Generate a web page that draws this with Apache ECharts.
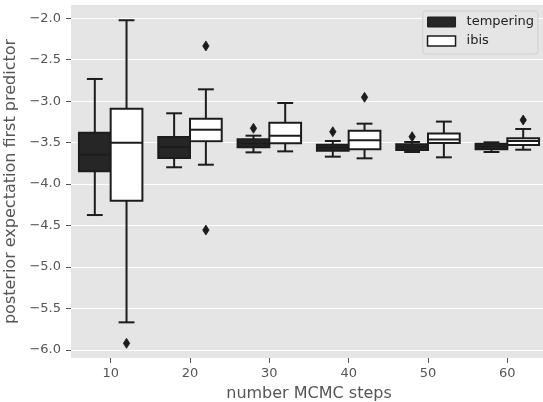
<!DOCTYPE html>
<html>
<head>
<meta charset="utf-8">
<script src="https://cdn.jsdelivr.net/npm/echarts@6/dist/echarts.min.js"></script>
<style>
  html, body { margin: 0; padding: 0; background: #ffffff; }
  #chart { width: 543px; height: 402px; }
</style>
</head>
<body>
<div id="chart"></div>
<script>
// Number of MCMC steps (x categories)
const steps = ['10', '20', '30', '40', '50', '60'];

// Box summaries per step: [lower whisker, Q1, median, Q3, upper whisker]
const temperingBoxes = [
  [-4.373, -3.846, -3.645, -3.380, -2.732],
  [-3.797, -3.685, -3.552, -3.432, -3.146],
  [-3.617, -3.556, -3.510, -3.460, -3.416],
  [-3.669, -3.597, -3.560, -3.525, -3.480],
  [-3.613, -3.589, -3.555, -3.520, -3.492],
  [-3.613, -3.580, -3.545, -3.513, -3.496]
];
const ibisBoxes = [
  [-5.667, -4.200, -3.500, -3.090, -2.024],
  [-3.766, -3.484, -3.344, -3.211, -2.857],
  [-3.605, -3.508, -3.416, -3.259, -3.022],
  [-3.689, -3.580, -3.472, -3.356, -3.271],
  [-3.677, -3.504, -3.462, -3.390, -3.246],
  [-3.585, -3.528, -3.480, -3.448, -3.335]
];

// Outliers: [step index, value]
const temperingOutliers = [[2, -3.327], [3, -3.368], [4, -3.428]];
const ibisOutliers = [[0, -5.920], [1, -2.334], [1, -4.554], [3, -2.953], [5, -3.227]];

// Y tick positions / labels
const yTicks = [-6.0, -5.5, -5.0, -4.5, -4.0, -3.5, -3.0, -2.5, -2.0];

const EDGE = '#1c1c1c';
const DARK_FILL = '#262626';
const LIGHT_FILL = '#ffffff';
const FONT = 'DejaVu Sans';

function boxRenderer(shift, fill) {
  return function (params, api) {
    const idx = api.value(0);
    const band = api.size([1, 0])[0];
    const cx = api.coord([idx, 0])[0] + shift * band;
    const half = band * 0.2;
    const cap = band * 0.1;
    const py = (i) => api.coord([idx, api.value(i)])[1];
    const lo = py(1), q1 = py(2), med = py(3), q3 = py(4), hi = py(5);
    const ls = { stroke: EDGE, lineWidth: 2 };
    return {
      type: 'group',
      children: [
        { type: 'line', shape: { x1: cx, y1: q3, x2: cx, y2: hi }, style: ls },
        { type: 'line', shape: { x1: cx, y1: q1, x2: cx, y2: lo }, style: ls },
        { type: 'line', shape: { x1: cx - cap, y1: hi, x2: cx + cap, y2: hi }, style: ls },
        { type: 'line', shape: { x1: cx - cap, y1: lo, x2: cx + cap, y2: lo }, style: ls },
        { type: 'rect', shape: { x: cx - half, y: q3, width: 2 * half, height: q1 - q3 },
          style: { fill: fill, stroke: EDGE, lineWidth: 2 } },
        { type: 'line', shape: { x1: cx - half, y1: med, x2: cx + half, y2: med }, style: ls }
      ]
    };
  };
}

function outlierRenderer(shift) {
  return function (params, api) {
    const idx = api.value(0);
    const band = api.size([1, 0])[0];
    const p = api.coord([idx, api.value(1)]);
    const cx = p[0] + shift * band;
    const cy = p[1];
    return {
      type: 'polygon',
      shape: { points: [[cx, cy - 5], [cx + 3.2, cy], [cx, cy + 5], [cx - 3.2, cy]] },
      style: { fill: EDGE, stroke: EDGE, lineWidth: 0.8 }
    };
  };
}

const chart = echarts.init(document.getElementById('chart'), null, { renderer: 'canvas' });

chart.setOption({
  animation: false,
  backgroundColor: '#ffffff',
  textStyle: { fontFamily: FONT },
  grid: {
    left: 71, top: 5, width: 476, height: 353,
    outerBoundsMode: 'none',
    containLabel: false,
    show: true, backgroundColor: '#e5e5e5', borderWidth: 0
  },
  legend: {
    orient: 'vertical',
    right: 5, top: 11,
    padding: [4, 4, 6, 4],
    itemGap: 5,
    itemWidth: 28, itemHeight: 10,
    backgroundColor: 'rgba(229,229,229,0.8)',
    borderColor: '#d0d0d0', borderWidth: 1, borderRadius: 3,
    textStyle: { color: '#222222', fontSize: 13, fontFamily: FONT, lineHeight: 14, padding: [0, 0, 0, 6] },
    data: [
      { name: 'tempering', icon: 'rect', itemStyle: { color: DARK_FILL, borderColor: EDGE, borderWidth: 1 } },
      { name: 'ibis', icon: 'rect', itemStyle: { color: LIGHT_FILL, borderColor: EDGE, borderWidth: 1.5 } }
    ]
  },
  xAxis: {
    type: 'category',
    data: steps,
    boundaryGap: true,
    name: 'number MCMC steps',
    nameLocation: 'middle',
    nameGap: 28,
    nameTextStyle: { color: '#555555', fontSize: 16, fontFamily: FONT },
    axisLine: { show: false },
    axisTick: { show: true, alignWithLabel: true, length: 5, lineStyle: { color: '#555555', width: 1 } },
    axisLabel: { color: '#555555', fontSize: 13, fontFamily: FONT, margin: 9 },
    splitLine: { show: false }
  },
  yAxis: {
    type: 'value',
    min: -6.097,
    max: -1.840,
    name: 'posterior expectation first predictor',
    nameLocation: 'middle',
    nameGap: 46,
    nameTextStyle: { color: '#555555', fontSize: 16, fontFamily: FONT },
    axisLine: { show: false },
    axisTick: { show: true, length: 5, customValues: yTicks, lineStyle: { color: '#555555', width: 1 } },
    axisLabel: {
      color: '#555555', fontSize: 13, fontFamily: FONT, margin: 10,
      customValues: yTicks,
      formatter: (v) => (v < 0 ? '\u2212' : '') + Math.abs(v).toFixed(1)
    },
    splitLine: { show: true, customValues: yTicks, lineStyle: { color: '#ffffff', width: 1.2 } }
  },
  series: [
    {
      name: 'tempering',
      type: 'custom',
      itemStyle: { color: DARK_FILL, borderColor: EDGE },
      renderItem: boxRenderer(-0.2, DARK_FILL),
      encode: { x: 0, y: [1, 2, 3, 4, 5] },
      data: temperingBoxes.map((b, i) => [i].concat(b)),
      z: 3
    },
    {
      name: 'ibis',
      type: 'custom',
      itemStyle: { color: LIGHT_FILL, borderColor: EDGE },
      renderItem: boxRenderer(0.2, LIGHT_FILL),
      encode: { x: 0, y: [1, 2, 3, 4, 5] },
      data: ibisBoxes.map((b, i) => [i].concat(b)),
      z: 3
    },
    {
      name: 'tempering outliers',
      type: 'custom',
      renderItem: outlierRenderer(-0.2),
      encode: { x: 0, y: 1 },
      data: temperingOutliers,
      z: 4
    },
    {
      name: 'ibis outliers',
      type: 'custom',
      renderItem: outlierRenderer(0.2),
      encode: { x: 0, y: 1 },
      data: ibisOutliers,
      z: 4
    }
  ]
});
</script>
</body>
</html>
